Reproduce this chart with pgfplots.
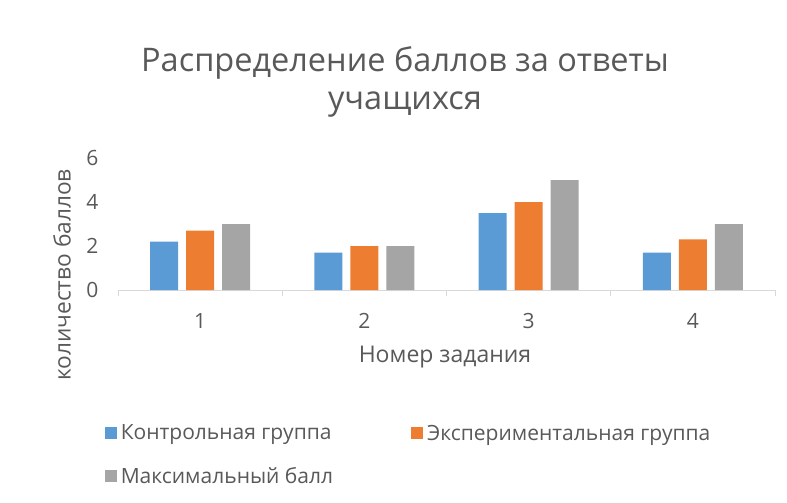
\documentclass[border=0pt]{standalone}
\usepackage{fontspec}
\setmainfont{Open Sans}
\usepackage{pgfplots}
\pgfplotsset{compat=1.18}
\definecolor{cblue}{HTML}{5B9BD5}
\definecolor{corange}{HTML}{ED7D31}
\definecolor{cgray}{HTML}{A5A5A5}
\definecolor{txt}{HTML}{595959}
\definecolor{axl}{HTML}{D9D9D9}
\begin{document}
\begin{tikzpicture}
\path[use as bounding box] (0pt,0pt) rectangle (787pt,-503pt);
\node[txt,font=\fontsize{32.5}{38}\selectfont] at (405pt,-63pt) {Распределение баллов за ответы};
\node[txt,font=\fontsize{32.5}{38}\selectfont] at (405pt,-105pt) {учащихся};
\node[txt,font=\fontsize{22.7}{27}\selectfont,rotate=90] at (62pt,-275pt) {количество баллов};
\node[txt,font=\fontsize{23}{27}\selectfont] at (445pt,-357pt) {Номер задания};
\begin{axis}[
  at={(118pt,-290pt)}, anchor=south west,
  scale only axis, width=657pt, height=132pt,
  ybar=8pt, bar width=28pt,
  xmin=0.5, xmax=4.5, ymin=0, ymax=6,
  xtick={1,2,3,4},
  minor xtick={0.5,1.5,2.5,3.5,4.5},
  ytick={0,2,4,6},
  axis x line*=bottom, axis y line*=left,
  x axis line style={axl, line width=1pt, -},
  y axis line style={draw=none},
  tick align=outside,
  major tick length=0pt, minor tick length=6pt,
  minor tick style={axl, line width=1pt},
  ticklabel style={txt, font=\fontsize{21}{25}\selectfont},
  xticklabel style={yshift=-20pt},
  yticklabel style={xshift=-16pt},
  /pgf/number format/assume math mode=true,
  legend columns=2,
  legend cell align=left,
  legend style={at={(-0.025,-0.99)}, anchor=north west, draw=none, fill=none,
    font=\fontsize{21}{25}\selectfont, text=txt,
    row sep=22pt,
    /tikz/every odd column/.append style={column sep=2pt},
    /tikz/every even column/.append style={column sep=76pt}},
  legend image code/.code={\fill[#1] (0pt,-6pt) rectangle (12pt,6pt);},
]
\addplot[fill=cblue, draw=none] coordinates {(1,2.2) (2,1.7) (3,3.5) (4,1.7)};
\addplot[fill=corange, draw=none] coordinates {(1,2.7) (2,2) (3,4) (4,2.3)};
\addplot[fill=cgray, draw=none] coordinates {(1,3) (2,2) (3,5) (4,3)};
\legend{Контрольная группа, Экспериментальная группа, Максимальный балл}
\end{axis}
\end{tikzpicture}
\end{document}
